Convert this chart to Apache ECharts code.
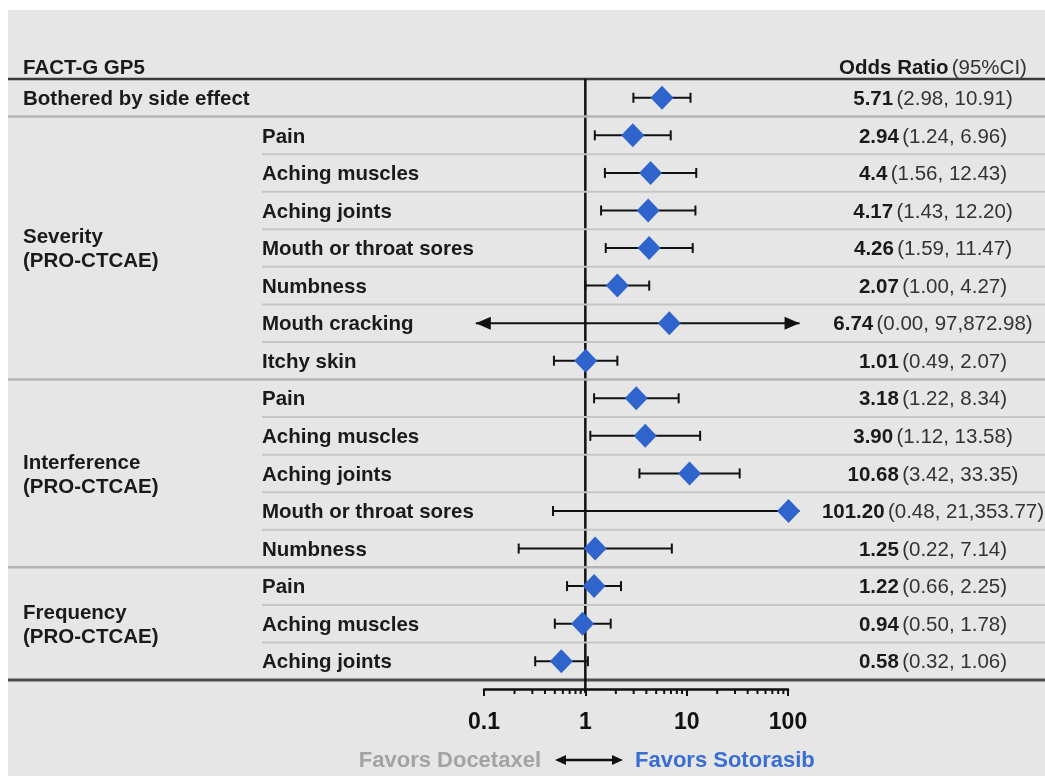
<!DOCTYPE html>
<html><head><meta charset="utf-8">
<script src="https://cdn.jsdelivr.net/npm/echarts@6/dist/echarts.min.js"></script>
<style>html,body{margin:0;padding:0;background:#fff}#c{width:1045px;height:776px}</style>
</head><body><div id="c"></div>
<script>
// ---------- data ----------
const groupLabels = ['', 'Severity\n(PRO-CTCAE)', 'Interference\n(PRO-CTCAE)', 'Frequency\n(PRO-CTCAE)'];
const rowLabels = ['Bothered by side effect', 'Pain', 'Aching muscles', 'Aching joints', 'Mouth or throat sores', 'Numbness', 'Mouth cracking', 'Itchy skin',
  'Pain', 'Aching muscles', 'Aching joints', 'Mouth or throat sores', 'Numbness',
  'Pain', 'Aching muscles', 'Aching joints'];
const rowGroup = [0, 1, 1, 1, 1, 1, 1, 1, 2, 2, 2, 2, 2, 3, 3, 3];
const orValues = [5.71, 2.94, 4.4, 4.17, 4.26, 2.07, 6.74, 1.01, 3.18, 3.90, 10.68, 101.20, 1.25, 1.22, 0.94, 0.58];
const orLabels = ['5.71', '2.94', '4.4', '4.17', '4.26', '2.07', '6.74', '1.01', '3.18', '3.90', '10.68', '101.20', '1.25', '1.22', '0.94', '0.58'];
const ciLower = [2.98, 1.24, 1.56, 1.43, 1.59, 1.00, 0.00, 0.49, 1.22, 1.12, 3.42, 0.48, 0.22, 0.66, 0.50, 0.32];
const ciUpper = [10.91, 6.96, 12.43, 12.20, 11.47, 4.27, 97872.98, 2.07, 8.34, 13.58, 33.35, 21353.77, 7.14, 2.25, 1.78, 1.06];
const tickLabels = ['0.1', '1', '10', '100'];
const minorTicks = [0.2, 0.3, 0.4, 0.5, 0.6, 0.7, 0.8, 0.9, 2, 3, 4, 5, 6, 7, 8, 9, 20, 30, 40, 50, 60, 70, 80, 90];
const plotLimits = [0.083, 130];
const headerLeft = 'FACT-G GP5';
const headerRightBold = 'Odds Ratio';
const headerRightReg = '(95%CI)';
const favorsLeft = 'Favors Docetaxel';
const favorsRight = 'Favors Sotorasib';

// ---------- style ----------
const FF = '"Liberation Sans", Arial, Helvetica, sans-serif';
const FS = 20.5;
const TXT = '#1a1a1a';
const BLUE = '#2e64cc';
const PAGE_L = 8, PAGE_R = 1045;
const ITEM_X = 262, TOP_X = 23, VALUE_X = 933, TY = 1.5;
const fmt = v => v.toLocaleString('en-US', {minimumFractionDigits: 2, maximumFractionDigits: 2});

const chart = echarts.init(document.getElementById('c'), null, {renderer: 'canvas'});

function rowRender(params, api) {
  const i = params.dataIndex;
  const yc = api.coord([1, i])[1];
  const band = api.size([0, 1])[1];
  const lo = Math.max(ciLower[i], plotLimits[0]);
  const hi = Math.min(ciUpper[i], plotLimits[1]);
  const xl = api.coord([lo, i])[0];
  const xr = api.coord([hi, i])[0];
  const ch = [];
  const ls = {stroke: '#111', lineWidth: 2};
  ch.push({type: 'line', shape: {x1: xl, y1: yc, x2: xr, y2: yc}, style: ls});
  const AL = 15, AH = 6.5;
  if (ciLower[i] < plotLimits[0]) {
    ch.push({type: 'polygon', shape: {points: [[xl, yc], [xl + AL, yc - AH], [xl + AL, yc + AH]]}, style: {fill: '#111'}});
  } else {
    ch.push({type: 'line', shape: {x1: xl, y1: yc - 5, x2: xl, y2: yc + 5}, style: ls});
  }
  if (ciUpper[i] > plotLimits[1]) {
    ch.push({type: 'polygon', shape: {points: [[xr, yc], [xr - AL, yc - AH], [xr - AL, yc + AH]]}, style: {fill: '#111'}});
  } else {
    ch.push({type: 'line', shape: {x1: xr, y1: yc - 5, x2: xr, y2: yc + 5}, style: ls});
  }
  // row label
  ch.push({type: 'text', style: {
    x: groupLabels[rowGroup[i]] ? ITEM_X : TOP_X, y: yc + TY, text: rowLabels[i],
    font: 'bold ' + FS + 'px ' + FF, fill: TXT, align: 'left', verticalAlign: 'middle'}});
  // value label
  ch.push({type: 'text', style: {
    x: VALUE_X, y: yc + TY, text: '{b|' + orLabels[i] + '} {r|(' + fmt(ciLower[i]) + ', ' + fmt(ciUpper[i]) + ')}',
    align: 'center', verticalAlign: 'middle',
    rich: {
      b: {fontWeight: 'bold', fontSize: FS, fontFamily: FF, fill: TXT},
      r: {fontWeight: 'normal', fontSize: FS, fontFamily: FF, fill: '#333'}
    }}});
  // separator
  if (i < rowLabels.length - 1) {
    const sy = yc + band / 2;
    const full = rowGroup[i] !== rowGroup[i + 1];
    ch.push({type: 'line', z2: -1, shape: {x1: full ? PAGE_L : ITEM_X, y1: sy, x2: PAGE_R, y2: sy},
      style: {stroke: full ? '#b4b4b4' : '#c6c6c6', lineWidth: full ? 2.5 : 2}});
  }
  return {type: 'group', children: ch};
}

// group spans
const groupSpans = [];
groupLabels.forEach((g, gi) => {
  if (!g) return;
  const idx = rowGroup.map((v, k) => v === gi ? k : -1).filter(k => k >= 0);
  groupSpans.push([1, idx[0], idx[idx.length - 1], gi]);
});

const option = {
  backgroundColor: '#ffffff',
  animation: false,
  grid: {left: 484, right: 257, top: 79, bottom: 96, containLabel: false},
  xAxis: {
    type: 'log', logBase: 10, min: 0.1, max: 100, offset: 9,
    axisLine: {show: true, lineStyle: {color: '#111', width: 2.5}},
    axisTick: {show: true, length: 7, lineStyle: {color: '#111', width: 2}},
    axisLabel: {
      margin: 22, fontSize: 23, fontWeight: 'bold', fontFamily: FF, color: '#111',
      formatter: v => { const k = Math.round(Math.log10(v)) + 1; return tickLabels[k] !== undefined ? tickLabels[k] : ''; }
    },
    splitLine: {show: false}, minorTick: {show: false}
  },
  yAxis: {
    type: 'category', inverse: true, data: rowLabels.map((d, i) => String(i)),
    show: false, boundaryGap: true
  },
  graphic: {elements: [
    {type: 'rect', z: -100, shape: {x: PAGE_L, y: 10, width: PAGE_R - PAGE_L, height: 766}, style: {fill: '#e6e6e6'}},
    {type: 'line', z: 1, shape: {x1: PAGE_L, y1: 79, x2: PAGE_R, y2: 79}, style: {stroke: '#3a3a3a', lineWidth: 2.5}},
    {type: 'line', z: 1, shape: {x1: PAGE_L, y1: 680, x2: PAGE_R, y2: 680}, style: {stroke: '#4a4a4a', lineWidth: 3}},
    {type: 'text', z: 5, style: {x: TOP_X, y: 68, text: headerLeft, font: 'bold ' + FS + 'px ' + FF, fill: TXT, align: 'left', verticalAlign: 'middle'}},
    {type: 'text', z: 5, style: {x: VALUE_X, y: 68, text: '{b|' + headerRightBold + '} {r|' + headerRightReg + '}', align: 'center', verticalAlign: 'middle',
      rich: {b: {fontWeight: 'bold', fontSize: FS, fontFamily: FF, fill: TXT}, r: {fontSize: FS, fontFamily: FF, fill: '#333'}}}},
    {type: 'text', z: 5, style: {x: 541, y: 761, text: favorsLeft, font: 'bold 22px ' + FF, fill: '#a3a3a3', align: 'right', verticalAlign: 'middle'}},
    {type: 'text', z: 5, style: {x: 635, y: 761, text: favorsRight, font: 'bold 22px ' + FF, fill: '#3a6dd3', align: 'left', verticalAlign: 'middle'}},
    {type: 'line', z: 5, shape: {x1: 562, y1: 760, x2: 616, y2: 760}, style: {stroke: '#111', lineWidth: 2.5}},
    {type: 'polygon', z: 5, shape: {points: [[555, 760], [566, 755], [566, 765]]}, style: {fill: '#111'}},
    {type: 'polygon', z: 5, shape: {points: [[623, 760], [612, 755], [612, 765]]}, style: {fill: '#111'}}
  ]},
  series: [
    {
      type: 'custom', name: 'ref', clip: false, z: 3,
      data: [[1, 0]], encode: {x: 0, y: 1},
      renderItem: (params, api) => {
        const cs = params.coordSys;
        const x = api.coord([1, 0])[0];
        return {type: 'line', shape: {x1: x, y1: cs.y, x2: x, y2: cs.y + cs.height + 13}, style: {stroke: '#111', lineWidth: 2.5}};
      }
    },
    {
      type: 'custom', name: 'minorTicks', clip: false, z: 3,
      data: minorTicks.map(v => [v, 0]), encode: {x: 0, y: 1},
      renderItem: (params, api) => {
        const cs = params.coordSys;
        const x = api.coord([api.value(0), 0])[0];
        const y0 = cs.y + cs.height + 9;
        return {type: 'line', shape: {x1: x, y1: y0, x2: x, y2: y0 + 5}, style: {stroke: '#111', lineWidth: 2}};
      }
    },
    {
      type: 'custom', name: 'groups', clip: false, z: 4,
      data: groupSpans, encode: {x: 0, y: 1},
      renderItem: (params, api) => {
        const s = groupSpans[params.dataIndex];
        const y1 = api.coord([1, s[1]])[1], y2 = api.coord([1, s[2]])[1];
        return {type: 'text', style: {x: TOP_X, y: (y1 + y2) / 2 + TY, text: groupLabels[s[3]], font: 'bold ' + FS + 'px ' + FF,
          lineHeight: 24, fill: TXT, align: 'left', verticalAlign: 'middle'}};
      }
    },
    {
      type: 'custom', name: 'rows', clip: false, z: 4,
      data: rowLabels.map((d, i) => [orValues[i], i]), encode: {x: 0, y: 1},
      renderItem: rowRender
    },
    {
      type: 'scatter', name: 'OR', z: 10, clip: false,
      data: orValues.map((v, i) => [v, i]),
      symbol: 'diamond', symbolSize: [23, 24],
      itemStyle: {color: BLUE, opacity: 1}
    }
  ]
};
chart.setOption(option);
</script></body></html>
